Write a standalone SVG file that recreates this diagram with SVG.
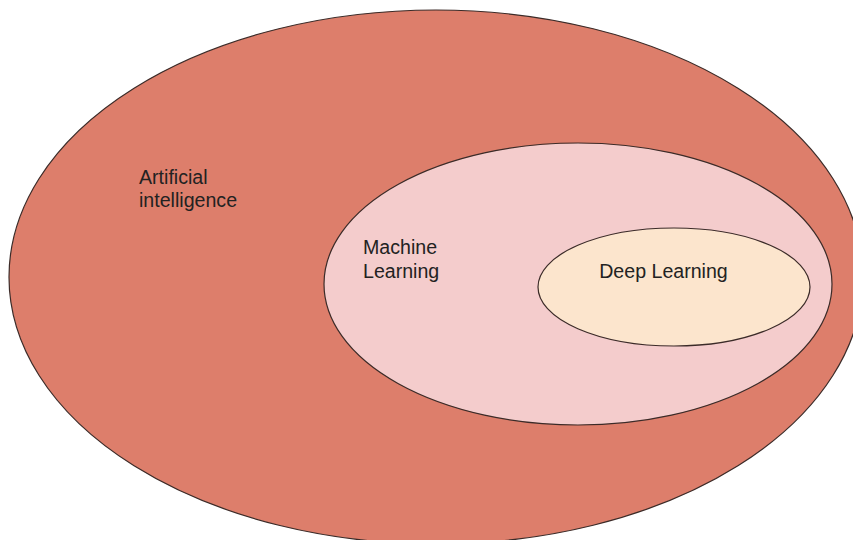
<svg xmlns="http://www.w3.org/2000/svg" width="853" height="540" viewBox="0 0 853 540">
  <style>
    .set { stroke: #3b2b28; stroke-width: 1.2; }
    .ai { fill: #dd7e6b; }
    .ml { fill: #f4cccc; }
    .dl { fill: #fce5cd; }
    .label { font-family: "Liberation Sans", Arial, sans-serif; font-size: 19.6px; fill: #222222; }
  </style>
  <rect width="853" height="540" fill="#ffffff"/>
  <g id="artificial-intelligence">
    <ellipse class="set ai" cx="436" cy="277" rx="427" ry="267"/>
    <text class="label" x="139" y="184">Artificial</text>
    <text class="label" x="139" y="207">intelligence</text>
  </g>
  <g id="machine-learning">
    <ellipse class="set ml" cx="578" cy="284" rx="254" ry="141"/>
    <text class="label" x="363" y="254">Machine</text>
    <text class="label" x="363" y="278">Learning</text>
  </g>
  <g id="deep-learning">
    <ellipse class="set dl" cx="674" cy="287" rx="136" ry="59"/>
    <text class="label" x="663.5" y="278" text-anchor="middle">Deep Learning</text>
  </g>
  <g id="connectors"/>
</svg>
